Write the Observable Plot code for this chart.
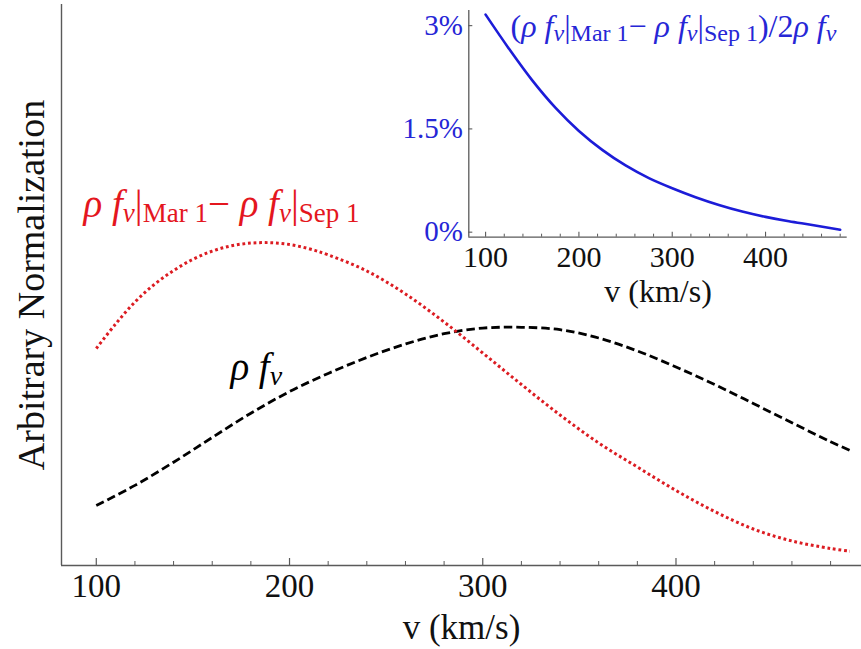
<!DOCTYPE html>
<html><head><meta charset="utf-8">
<script src="https://cdn.jsdelivr.net/npm/d3@7"></script>
<script src="https://cdn.jsdelivr.net/npm/@observablehq/plot@0.6"></script>
<style>
body{margin:0;background:#fff;}
#wrap{position:relative;width:861px;height:649px;overflow:hidden;background:#fff;}
#wrap > svg{position:absolute;}
text{white-space:pre;}
</style></head><body><div id="wrap"></div>
<script>
// ---- data ----
const velocity = [100,120,140,160,180,200,220,240,260,280,300,320,340,360,380,400,420,440,460,480,490];
const rhoF     = [10.70,14.28,18.41,22.82,27.15,31.00,34.24,37.08,39.48,41.32,42.32,42.46,42.03,40.55,38.24,35.38,32.26,28.88,25.44,22.07,20.50];
const diffVelocity = [100,110,120,130,140,150,160,170,180,190,200,210,220,240,260,280,300,320,340,360,380,400,420,440,460,480,490];
const rhoFDiff     = [38.68,43.05,46.97,50.09,52.58,54.58,56.04,56.99,57.47,57.54,57.22,56.47,55.37,52.50,48.40,43.40,37.88,32.26,26.83,21.84,17.56,13.37,9.63,6.51,4.37,3.03,2.55];
const ratioVelocity = [100,125,150,175,200,225,250,275,300,325,350,375,400,425,450,480];
const ratioPercent  = [3.16,2.666,2.205,1.805,1.470,1.195,0.969,0.785,0.638,0.508,0.395,0.300,0.222,0.158,0.105,0.035];
const majorTicks = [100,200,300,400];
const minorTicks = [120,140,160,180,220,240,260,280,320,340,360,380,420,440,460,480];
const insetYTicks = [0,1.5,3];
const xLabel = "v (km/s)";
const yLabel = "Arbitrary Normalization";
const redLabel = "*ρ* *f*_{*v*}|_{Mar 1}− *ρ* *f*_{*v*}|_{Sep 1}";
const blackLabel = "*ρ* *f*_{*v*}";
const blueLabel = "(*ρ* *f*_{*v*}|_{Mar 1}− *ρ* *f*_{*v*}|_{Sep 1})/2*ρ* *f*_{*v*}";

// ---- layout / style ----
const mainX = [82, 496], mainY = [0, 100];
const insetX = [82, 487.5], insetY = [-0.073, 3.22];
const axisColor = "#5a5a5a";
const RED = "#e4161e", RED_LINE = "#dc1c22", BLUE = "#1c1cd8", BLUE_TXT = "#2626d6";
const font = "'Liberation Serif', 'Times New Roman', serif";

const black = velocity.map((v, i) => ({v, y: rhoF[i]}));
const red = diffVelocity.map((v, i) => ({v, y: rhoFDiff[i]}));
const blue = ratioVelocity.map((v, i) => ({v, y: ratioPercent[i]}));

const main = Plot.plot({
  width: 861, height: 649,
  marginLeft: 61, marginRight: 0, marginTop: 4, marginBottom: 84,
  style: {fontFamily: font, background: "transparent", overflow: "visible", color: "#111"},
  x: {domain: mainX, axis: null},
  y: {domain: mainY, axis: null},
  marks: [
    Plot.ruleX([mainX[0]], {stroke: axisColor, strokeWidth: 1.4}),
    Plot.ruleY([mainY[0]], {stroke: axisColor, strokeWidth: 1.4}),
    Plot.ruleX(majorTicks, {x: d => d, y1: mainY[0], y2: mainY[0], insetTop: -7, stroke: axisColor, strokeWidth: 1.2}),
    Plot.ruleX(minorTicks, {x: d => d, y1: mainY[0], y2: mainY[0], insetTop: -4, stroke: axisColor, strokeWidth: 1}),
    Plot.axisX(majorTicks, {tickSize: 0, tickPadding: 8, fontSize: 33, label: null, fill: "#111"}),
    Plot.text([xLabel], {frameAnchor: "bottom", dy: 73, lineAnchor: "bottom", fontSize: 35, fill: "#111"}),
    Plot.text([yLabel], {frameAnchor: "left", rotate: -90, dx: -18, lineAnchor: "bottom", textAnchor: "middle", fontSize: 38, fill: "#111"}),
    Plot.line(black, {x: "v", y: "y", stroke: "#000", strokeWidth: 2.8, strokeDasharray: "8.5,4", strokeLinecap: "butt", curve: "catmull-rom"}),
    Plot.line(red, {x: "v", y: "y", stroke: RED_LINE, strokeWidth: 3, strokeDasharray: "2.8,2.8", strokeLinecap: "butt", curve: "catmull-rom"}),
    Plot.text([redLabel], {x: () => 93.4, y: () => 62.1, text: d => d, textAnchor: "start", lineAnchor: "bottom", fontSize: 39, fill: RED}),
    Plot.text([blackLabel], {x: () => 169.4, y: () => 33.0, text: d => d, textAnchor: "start", lineAnchor: "bottom", fontSize: 39, fill: "#000"})
  ]
});

const inset = Plot.plot({
  width: 461, height: 320,
  marginLeft: 68.3, marginRight: 14.3, marginTop: 10, marginBottom: 83.3,
  style: {fontFamily: font, background: "transparent", overflow: "visible", color: "#111"},
  x: {domain: insetX, axis: null},
  y: {domain: insetY, axis: null},
  marks: [
    Plot.ruleX([insetX[0]], {stroke: axisColor, strokeWidth: 1.3}),
    Plot.ruleY([insetY[0]], {stroke: axisColor, strokeWidth: 1.3}),
    Plot.ruleX(majorTicks, {x: d => d, y1: insetY[0], y2: insetY[0], insetTop: -5, stroke: axisColor, strokeWidth: 1.1}),
    Plot.ruleX(minorTicks, {x: d => d, y1: insetY[0], y2: insetY[0], insetTop: -3, stroke: axisColor, strokeWidth: 1}),
    Plot.ruleY(insetYTicks, {y: d => d, x1: insetX[0], x2: insetX[0], insetRight: -4, stroke: axisColor, strokeWidth: 1.1}),
    Plot.axisX(majorTicks, {tickSize: 0, tickPadding: 8, fontSize: 30, label: null, fill: "#111"}),
    Plot.axisY(insetYTicks, {tickSize: 0, tickPadding: 6, fontSize: 29, label: null, fill: BLUE_TXT, tickFormat: d => d + "%"}),
    Plot.text([xLabel], {frameAnchor: "bottom", dy: 65, lineAnchor: "bottom", fontSize: 32, fill: "#111"}),
    Plot.line(blue, {x: "v", y: "y", stroke: BLUE, strokeWidth: 2.6, curve: "catmull-rom"}),
    Plot.text([blueLabel], {x: () => 126.8, y: () => 2.83, text: d => d, textAnchor: "start", lineAnchor: "bottom", fontSize: 32, fill: BLUE_TXT})
  ]
});

const wrap = document.getElementById("wrap");
main.style.left = "0px"; main.style.top = "0px";
inset.style.left = "400px"; inset.style.top = "0px";
wrap.appendChild(main);
wrap.appendChild(inset);

// ---- rich math text: *italic*, _{subscript} ----
function parseRich(s) {
  const segs = []; let italic = false, sub = false, buf = "";
  const push = () => { if (buf) segs.push({t: buf, italic, sub}); buf = ""; };
  for (let i = 0; i < s.length; i++) {
    const c = s[i];
    if (c === "*") { push(); italic = !italic; }
    else if (c === "_" && s[i + 1] === "{") { push(); sub = true; i++; }
    else if (c === "}" && sub) { push(); sub = false; }
    else buf += c;
  }
  push();
  return segs;
}
function richText(svg, markup, size, subSize, shift) {
  d3.select(svg).selectAll("text").filter(function() { return this.textContent === markup; }).each(function() {
    const t = d3.select(this); t.text("");
    let cur = 0;
    for (const s of parseRich(markup)) {
      const target = s.sub ? shift : 0;
      t.append("tspan").attr("dy", target - cur).attr("font-size", s.sub ? subSize : size)
        .attr("font-style", s.italic ? "italic" : "normal").text(s.t);
      cur = target;
    }
  });
}
richText(main, redLabel, 39, 27, 5);
richText(main, blackLabel, 39, 28, 5);
richText(inset, blueLabel, 32, 24, 4);
</script></body></html>
